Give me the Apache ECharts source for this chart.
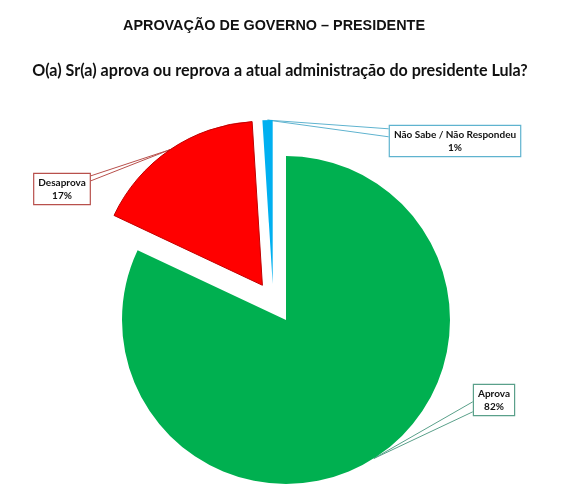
<!DOCTYPE html>
<html><head><meta charset="utf-8">
<script src="https://cdn.jsdelivr.net/npm/echarts@6/dist/echarts.min.js"></script>
<style>html,body{margin:0;padding:0;background:#fff}#c{width:568px;height:492px}</style>
</head><body><div id="c"></div>
<script>
const categories = ['Aprova', 'Desaprova', 'Não Sabe / Não Respondeu'];
const values = [82, 17, 1];
const colors = ['#00b050', '#ff0000', '#00b0f0'];
const labelBorders = ['#5aa08a', '#b8504c', '#5fb3cf'];
const exploded = [false, true, true];

// label box centres and callout attachment (side, y offsets within box)
const labelPos = [[494, 400], [62, 189], [455, 141]];
const calloutSide = ['left', 'right', 'left'];
const calloutY = [[18, 28], [3, 8], [4, 12]];

const SEL_OFFSET = 42;
const total = values.reduce((a, b) => a + b, 0);
function selOffset(i) {
  if (!exploded[i]) return [0, 0];
  let start = 0;
  for (let k = 0; k < i; k++) start += values[k];
  const mid = (start + values[i] / 2) / total * 2 * Math.PI;
  return [Math.sin(mid) * SEL_OFFSET, -Math.cos(mid) * SEL_OFFSET];
}

function labelLayout(p) {
  const i = p.dataIndex;
  const r = p.labelRect;
  const off = selOffset(i);
  const dx = labelPos[i][0] - off[0] - (r.x + r.width / 2);
  const dy = labelPos[i][1] - off[1] - (r.y + r.height / 2);
  const nx = r.x + dx, ny = r.y + dy;
  const ex = calloutSide[i] === 'left' ? nx : nx + r.width;
  const tip = p.labelLinePoints ? p.labelLinePoints[0] : [ex, ny];
  return {
    dx: dx, dy: dy,
    labelLinePoints: [[ex, ny + calloutY[i][0]], [tip[0], tip[1]], [ex, ny + calloutY[i][1]]]
  };
}

const labelOpt = {
  show: true,
  position: 'outside',
  formatter: p => '{c|' + p.name + '}\n{c|' + p.value + '%}',
  rich: { c: { align: 'center', fontFamily: 'Lato', fontWeight: 'bold', fontSize: 10, color: '#111', lineHeight: 13 } },
  fontFamily: 'Lato', fontWeight: 'bold', fontSize: 10, color: '#111',
  backgroundColor: '#fff', borderWidth: 1.2, padding: [2, 4, 2, 4]
};

// the small slice is exploded further to the left in the original; it is drawn by its own layer
const smallIdx = 2;
function buildData(layer) {
  return categories.map((n, i) => {
    const visible = layer === 'main' ? i !== smallIdx : i === smallIdx;
    return {
      name: n, value: values[i], selected: exploded[i],
      itemStyle: visible
        ? { color: colors[i], borderColor: i === 1 ? '#c00000' : colors[i], borderWidth: i === 1 ? 1 : 0 }
        : { color: 'rgba(0,0,0,0)', borderWidth: 0 },
      label: visible ? { borderColor: labelBorders[i] } : { show: false },
      labelLine: visible ? { lineStyle: { color: labelBorders[i] } } : { show: false }
    };
  });
}

const common = {
  type: 'pie',
  radius: 164,
  startAngle: 90,
  clockwise: true,
  selectedMode: 'multiple',
  selectedOffset: SEL_OFFSET,
  emphasis: { disabled: true },
  label: labelOpt,
  labelLine: { show: true, length: 20, length2: 20, lineStyle: { width: 1 } },
  labelLayout: labelLayout
};

const chart = echarts.init(document.getElementById('c'));
chart.setOption({
  animation: false,
  title: [
    { text: 'APROVAÇÃO DE GOVERNO – PRESIDENTE', left: 269, top: 14, textAlign: 'center',
      textStyle: { fontFamily: 'Liberation Sans', fontWeight: 'bold', fontSize: 14.4, color: '#111' } },
    { text: 'O(a) Sr(a) aprova ou reprova a atual administração do presidente Lula?', left: 275, top: 58, textAlign: 'center',
      textStyle: { fontFamily: 'Lato', fontWeight: 'bold', fontSize: 16.1, color: '#111' } }
  ],
  series: [
    Object.assign({}, common, { center: [286, 320], data: buildData('main') }),
    Object.assign({}, common, { center: [274, 326], silent: true, data: buildData('small') })
  ]
});
</script></body></html>
